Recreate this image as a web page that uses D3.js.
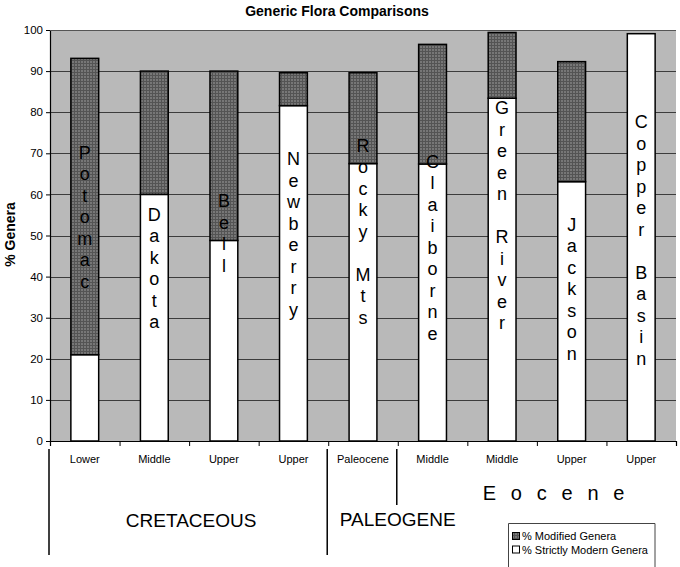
<!DOCTYPE html>
<html>
<head>
<meta charset="utf-8">
<script src="https://cdn.jsdelivr.net/npm/d3@7"></script>
<style>
  body { margin: 0; background: #fff; }
  svg { display: block; font-family: Arial, "Liberation Sans", sans-serif; }
</style>
</head>
<body>
<div id="chart"></div>
<script>
// chart values
const formations = ["Potomac", "Dakota", "Bell", "Newberry", "Rocky Mts", "Claiborne", "Green River", "Jackson", "Copper Basin"]
const stages = ["Lower", "Middle", "Upper", "Upper", "Paleocene", "Middle", "Middle", "Upper", "Upper"]
const modern = [21, 60, 48.8, 81.6, 67.5, 67.4, 83.4, 63.1, 99.1]
const modified = [72.1, 30, 41.2, 8, 22.1, 29.1, 16, 29.2, 0]
// value (in % Genera) where each vertical label's first letter sits
const labelAt = [70.1, 55, 58.3, 68.6, 71.8, 67.9, 81, 52.6, 77.6]
const yTicks = [0, 10, 20, 30, 40, 50, 60, 70, 80, 90, 100]
const seriesNames = ["% Modified Genera", "% Strictly Modern Genera"]
const eraNames = ["CRETACEOUS", "PALEOGENE"]
const eraSplits = [0, 4, 5]   // category boundaries that get a divider line

const W = 680, H = 567
const margin = {top: 30, right: 4, bottom: 126, left: 50}
const plotW = W - margin.left - margin.right,
      plotH = H - margin.top - margin.bottom

const bgFill = "#b9b9b9", gridCol = "#3c3c3c"

const svg = d3.select("#chart").append("svg")
    .attr("width", W)
    .attr("height", H)

// fine grid texture like the scanned hatch of the dark bars
const defs = svg.append("defs")
const pat = defs.append("pattern")
    .attr("id", "modHatch")
    .attr("patternUnits", "userSpaceOnUse")
    .attr("width", 3).attr("height", 3)
pat.append("rect").attr("width", 3).attr("height", 3).attr("fill", "#777")
pat.append("rect").attr("width", 3).attr("height", 1).attr("fill", "#545454")
pat.append("rect").attr("width", 1).attr("height", 3).attr("fill", "#545454")
const modFill = "url(#modHatch)"

svg.append("rect").attr("width", W).attr("height", H).attr("fill", "#fff")

const x = d3.scaleBand()
    .domain(d3.range(formations.length))
    .range([0, plotW])
    .paddingInner(0.6)
    .paddingOuter(0.3)

// linear scale over category boundaries, used for ticks / divider lines
const xb = d3.scaleLinear()
    .domain([0, formations.length])
    .range([0, plotW])

const y = d3.scaleLinear()
    .domain([0, 100])
    .range([plotH, 0])

const g = svg.append("g")
    .attr("transform", "translate(" + margin.left + "," + margin.top + ")")

// plot background
g.append("rect")
    .attr("x", 0).attr("y", 0)
    .attr("width", plotW).attr("height", plotH)
    .attr("fill", bgFill)

// gridlines
g.append("g")
    .selectAll("line")
    .data(yTicks.filter(d => d > 0))
    .enter().append("line")
      .attr("x1", 0).attr("x2", plotW)
      .attr("y1", d => Math.round(y(d)) + 0.5)
      .attr("y2", d => Math.round(y(d)) + 0.5)
      .attr("stroke", gridCol)
      .attr("stroke-width", 1)

// modern (white) segment
g.append("g")
    .selectAll("rect")
    .data(modern)
    .enter().append("rect")
      .attr("x", (d, i) => x(i))
      .attr("y", d => y(d))
      .attr("width", x.bandwidth())
      .attr("height", d => y(0) - y(d))
      .attr("fill", "#fff")
      .attr("stroke", "#000")
      .attr("stroke-width", 1.5)

// modified (dark) segment stacked on top of the modern one
g.append("g")
    .selectAll("rect")
    .data(modified.map((d, i) => ({i: i, base: modern[i], v: d})).filter(d => d.v > 0))
    .enter().append("rect")
      .attr("x", d => x(d.i))
      .attr("y", d => y(d.base + d.v))
      .attr("width", x.bandwidth())
      .attr("height", d => y(d.base) - y(d.base + d.v))
      .attr("fill", modFill)
      .attr("stroke", "#000")
      .attr("stroke-width", 1.5)

// vertical letter-stacked formation names
const lineStep = 21.5
formations.forEach(function(name, i) {
  const cx = x(i) + x.bandwidth() / 2
  const y0 = y(labelAt[i])
  const lg = g.append("g")
  name.split("").forEach(function(ch, k) {
    if (ch === " ") return
    lg.append("text")
        .attr("x", cx)
        .attr("y", y0 + k * lineStep)
        .attr("text-anchor", "middle")
        .attr("dominant-baseline", "central")
        .style("font-size", "18px")
        .style("fill", "#000")
        .text(ch)
  })
})

// y axis
const yAxis = g.append("g")
    .call(d3.axisLeft(y).tickValues(yTicks).tickSize(4).tickPadding(3))
yAxis.select(".domain").attr("stroke", "#000").attr("stroke-width", 1.2)
yAxis.selectAll(".tick line").attr("stroke", "#000")
yAxis.selectAll("text")
    .style("font-size", "11.5px")
    .style("font-family", "Arial, 'Liberation Sans', sans-serif")
    .attr("fill", "#000")

// x axis with ticks at category boundaries
const xAxis = g.append("g")
    .attr("transform", "translate(0," + plotH + ")")
    .call(d3.axisBottom(xb).ticks(formations.length).tickSize(5).tickFormat(""))
xAxis.select(".domain").attr("stroke", "#000").attr("stroke-width", 1.2)
xAxis.selectAll(".tick line").attr("stroke", "#000")

// top edge of plot
g.append("line")
    .attr("x1", 0).attr("x2", plotW)
    .attr("y1", 0.5).attr("y2", 0.5)
    .attr("stroke", "#555")

// stage labels under each bar
g.append("g")
    .selectAll("text")
    .data(stages)
    .enter().append("text")
      .attr("x", (d, i) => x(i) + x.bandwidth() / 2)
      .attr("y", plotH + 22)
      .attr("text-anchor", "middle")
      .style("font-size", "11px")
      .text(d => d)

// era divider lines
g.append("g")
    .selectAll("line")
    .data(eraSplits)
    .enter().append("line")
      .attr("x1", d => xb(d) - 1).attr("x2", d => xb(d) - 1)
      .attr("y1", plotH + 8)
      .attr("y2", (d, i) => i < 2 ? plotH + 114 : plotH + 64)
      .attr("stroke", "#000")
      .attr("stroke-width", 1.5)

// era names
g.append("text")
    .attr("x", (xb(eraSplits[0]) + xb(eraSplits[1])) / 2 + 2)
    .attr("y", plotH + 86)
    .attr("text-anchor", "middle")
    .style("font-size", "19px")
    .text(eraNames[0])

g.append("text")
    .attr("x", xb(eraSplits[2]))
    .attr("y", plotH + 85)
    .attr("text-anchor", "middle")
    .style("font-size", "19px")
    .text(eraNames[1])

g.append("text")
    .attr("x", xb(eraSplits[2]) + 85)
    .attr("y", plotH + 59)
    .style("font-size", "20px")
    .style("letter-spacing", "4.6px")
    .text("E o c e n e")

// title
svg.append("text")
    .attr("x", 337)
    .attr("y", 16)
    .attr("text-anchor", "middle")
    .style("font-size", "14px")
    .style("font-weight", "bold")
    .text("Generic Flora Comparisons")

// y axis title
svg.append("text")
    .attr("transform", "translate(15," + (margin.top + plotH / 2 - 1) + ") rotate(-90)")
    .attr("text-anchor", "middle")
    .style("font-size", "14px")
    .style("font-weight", "bold")
    .text("% Genera")

// legend
const legend = svg.append("g").attr("transform", "translate(508,523)")
legend.append("path")
    .attr("d", "M0.5,46V0.5H147V46")
    .attr("fill", "#fff")
    .attr("stroke", "#444")
    .attr("stroke-width", 1)
const swatchFill = [modFill, "#fff"]
seriesNames.forEach(function(name, i) {
  legend.append("rect")
      .attr("x", 4.5).attr("y", 9.5 + i * 13.5)
      .attr("width", 7).attr("height", 7)
      .attr("fill", swatchFill[i])
      .attr("stroke", "#000")
  legend.append("text")
      .attr("x", 14)
      .attr("y", 17 + i * 13.5)
      .style("font-size", "11px")
      .text(name)
})
</script>
</body>
</html>
